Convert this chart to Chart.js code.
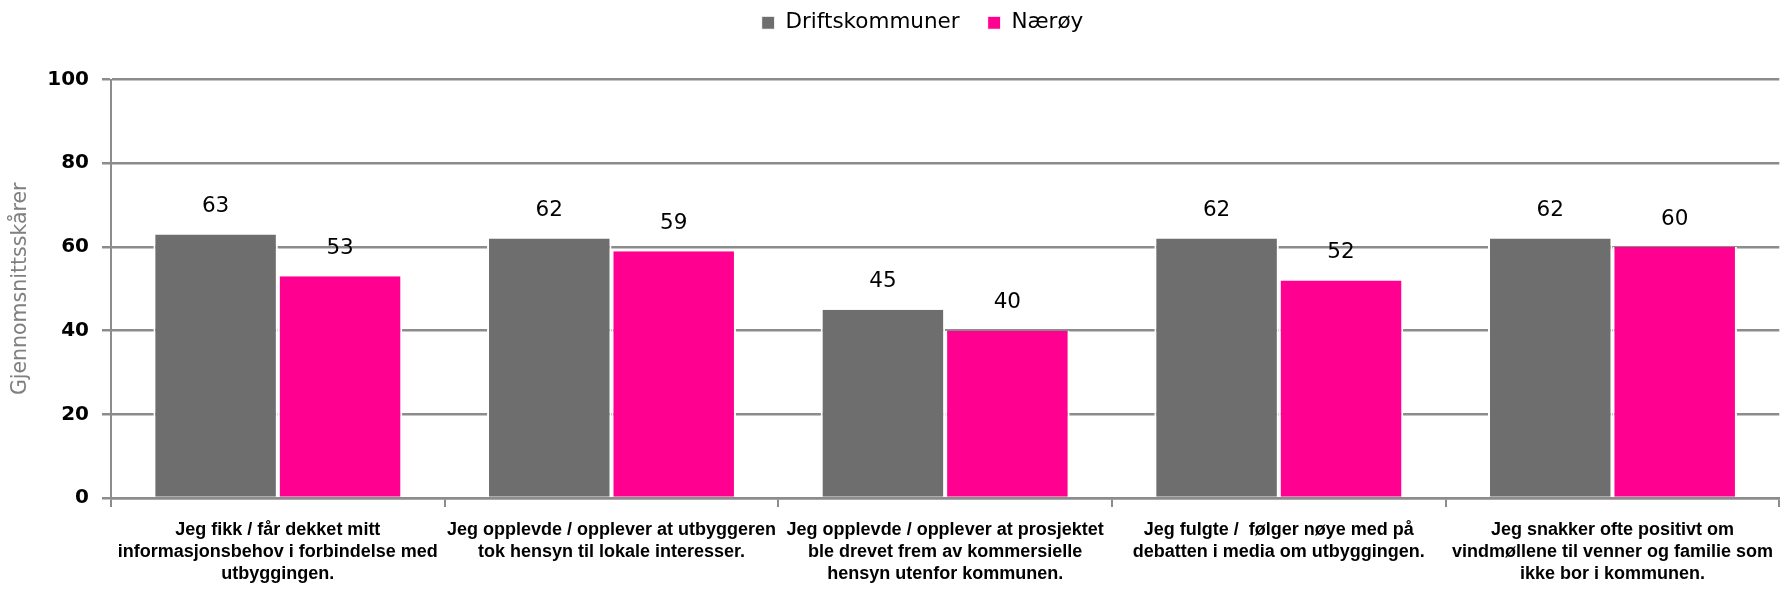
<!DOCTYPE html>
<html>
<head>
<meta charset="utf-8">
<script src="https://cdn.jsdelivr.net/npm/chart.js@4/dist/chart.umd.min.js"></script>
<style>
html, body { margin: 0; padding: 0; background: #ffffff; }
#wrap { width: 1785px; height: 598px; }
canvas { display: block; }
</style>
</head>
<body>
<div id="wrap"><canvas id="c" width="1785" height="598"></canvas></div>
<script>
// ---- data ----
const categories = [
  ["Jeg fikk / får dekket mitt", "informasjonsbehov i forbindelse med", "utbyggingen."],
  ["Jeg opplevde / opplever at utbyggeren", "tok hensyn til lokale interesser."],
  ["Jeg opplevde / opplever at prosjektet", "ble drevet frem av kommersielle", "hensyn utenfor kommunen."],
  ["Jeg fulgte /  følger nøye med på", "debatten i media om utbyggingen."],
  ["Jeg snakker ofte positivt om", "vindmøllene til venner og familie som", "ikke bor i kommunen."]
];
const seriesNames = ["Driftskommuner", "Nærøy"];
const driftskommuner = [63, 62, 45, 62, 62];
const naeroy = [53, 59, 40, 52, 60];
const yMin = 0;
const yMax = 100;
const yStep = 20;
const yTitle = "Gjennomsnittsskårer";

// ---- styling ----
const GREY = "#6e6e6e";
const PINK = "#ff0090";
const GRID = "#8c8c8c";
const BAR_BORDER = { top: 0, left: 2, right: 2, bottom: 0 };

const valueLabels = {
  id: "valueLabels",
  afterDatasetsDraw(chart) {
    const ctx = chart.ctx;
    ctx.save();
    ctx.font = '21.5px "DejaVu Sans"';
    ctx.fillStyle = "#000000";
    ctx.textAlign = "center";
    ctx.textBaseline = "middle";
    chart.data.datasets.forEach((ds, i) => {
      const meta = chart.getDatasetMeta(i);
      meta.data.forEach((el, j) => {
        ctx.fillText(String(ds.data[j]), el.x, el.y - 28);
      });
    });
    ctx.restore();
  }
};

const legendShift = {
  id: "legendShift",
  afterLayout(chart) {
    const l = chart.legend;
    if (l) { l.left += 27; l.right += 27; }
  }
};

new Chart(document.getElementById("c"), {
  type: "bar",
  data: {
    labels: categories,
    datasets: [
      { label: seriesNames[0], data: driftskommuner, backgroundColor: GREY, borderColor: "#ffffff", borderWidth: BAR_BORDER },
      { label: seriesNames[1], data: naeroy, backgroundColor: PINK, borderColor: "#ffffff", borderWidth: BAR_BORDER }
    ]
  },
  options: {
    responsive: false,
    animation: false,
    devicePixelRatio: 1,
    layout: { padding: { left: 6, right: 0, top: -16, bottom: 1 } },
    datasets: { bar: { categoryPercentage: 0.746, barPercentage: 1.0 } },
    plugins: {
      tooltip: { enabled: false },
      legend: {
        display: true,
        position: "top",
        labels: {
          boxWidth: 13,
          boxHeight: 13,
          padding: 28,
          color: "#000000",
          font: { family: "DejaVu Sans", size: 21.5 }
        }
      },
      subtitle: {
        display: true,
        text: " ",
        weight: 500,
        padding: { top: 12, bottom: 12 },
        font: { size: 10 }
      }
    },
    scales: {
      x: {
        offset: true,
        grid: { offset: true, drawOnChartArea: false, drawTicks: true, tickLength: 9, color: GRID, lineWidth: 2 },
        border: { display: true, color: GRID, width: 2.5 },
        ticks: {
          autoSkip: false,
          maxRotation: 0,
          minRotation: 0,
          padding: 12,
          color: "#000000",
          font: { family: "Liberation Sans", weight: "bold", size: 18, lineHeight: 1.22 }
        }
      },
      y: {
        min: yMin,
        max: yMax,
        afterFit(scale) { scale.width = 105; },
        ticks: {
          stepSize: yStep,
          padding: 13,
          color: "#000000",
          font: { family: "DejaVu Sans", weight: "bold", size: 20 }
        },
        grid: { color: GRID, lineWidth: 2.5, drawTicks: true, tickLength: 9 },
        border: { display: true, color: GRID, width: 2 },
        title: {
          display: true,
          text: yTitle,
          color: "#7f7f7f",
          padding: { top: 2, bottom: 0 },
          font: { family: "DejaVu Sans", size: 20.5 }
        }
      }
    }
  },
  plugins: [valueLabels, legendShift]
});
</script>
</body>
</html>
